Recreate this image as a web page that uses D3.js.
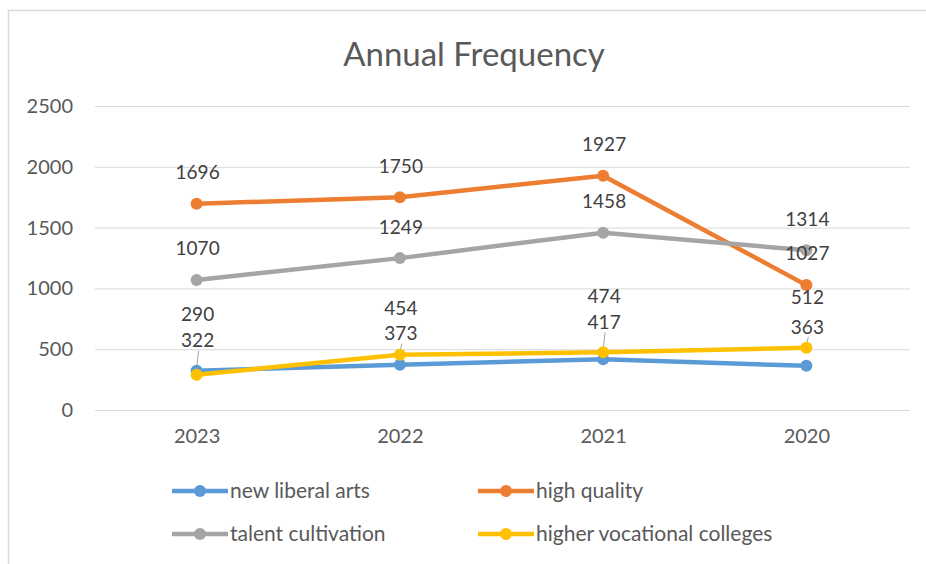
<!DOCTYPE html>
<html>
<head>
<meta charset="utf-8">
<script src="https://cdn.jsdelivr.net/npm/d3@7"></script>
<style>
  body { margin: 0; background: #fff; }
  text { font-family: Lato, "Open Sans", sans-serif; }
</style>
</head>
<body>
<div id="chart"></div>
<script>
// data
const years = ['2023', '2022', '2021', '2020'];
const newLiberalArts = [322, 373, 417, 363];
const highQuality = [1696, 1750, 1927, 1027];
const talentCultivation = [1070, 1249, 1458, 1314];
const higherVocational = [290, 454, 474, 512];
const yTicks = [0, 500, 1000, 1500, 2000, 2500];

const series = [
  { name: 'new liberal arts', values: newLiberalArts, color: '#5b9bd5' },
  { name: 'high quality', values: highQuality, color: '#ed7d31' },
  { name: 'talent cultivation', values: talentCultivation, color: '#a5a5a5' },
  { name: 'higher vocational colleges', values: higherVocational, color: '#ffc000' },
];

// label offsets (px above point), the low series labels were dragged up by hand in the original
const labelLift = {
  'new liberal arts': [30, 31, 37, 39],
  'high quality': [31, 31, 31, 32],
  'talent cultivation': [32, 31, 31, 31],
  'higher vocational colleges': [60, 46, 56, 50],
};

const width = 926, height = 564;
const svg = d3.select('#chart').append('svg')
  .attr('width', width).attr('height', height);

// chart frame
svg.append('rect')
  .attr('x', 8.5).attr('y', 10.5)
  .attr('width', 940).attr('height', 580)
  .attr('fill', '#fff').attr('stroke', '#d9d9d9').attr('stroke-width', 1.5);

svg.append('text')
  .attr('x', 474).attr('y', 66)
  .attr('text-anchor', 'middle')
  .attr('font-size', 33).attr('fill', '#595959')
  .text('Annual Frequency');

const x = d3.scalePoint().domain(years).range([95, 908]).padding(0.5);
const y = d3.scaleLinear().domain([0, 2500]).range([410, 106]);

// gridlines
svg.append('g').selectAll('line')
  .data(yTicks).enter().append('line')
  .attr('x1', 95).attr('x2', 910)
  .attr('y1', d => y(d) + 0.5).attr('y2', d => y(d) + 0.5)
  .attr('stroke', '#d9d9d9').attr('stroke-width', 1);

const yAxis = svg.append('g')
  .attr('transform', 'translate(73,0)')
  .call(d3.axisLeft(y).tickValues(yTicks).tickFormat(d3.format('d')).tickSize(0).tickPadding(0));
yAxis.select('.domain').remove();
yAxis.selectAll('text').attr('font-size', 20).attr('fill', '#595959')
  .attr('font-family', 'Lato, sans-serif');

const xAxis = svg.append('g')
  .attr('transform', 'translate(0,428)')
  .call(d3.axisBottom(x).tickSize(0).tickPadding(0));
xAxis.select('.domain').remove();
xAxis.selectAll('text').attr('font-size', 20).attr('fill', '#595959')
  .attr('font-family', 'Lato, sans-serif').attr('dy', '0.75em');

const line = d3.line().x((d, i) => x(years[i])).y(d => y(d));

// leader lines for the lifted labels
years.forEach((yr, i) => {
  const lowBlue = y(newLiberalArts[i]) - labelLift['new liberal arts'][i];
  const topPt = Math.min(y(newLiberalArts[i]), y(higherVocational[i]));
  svg.append('line')
    .attr('x1', x(yr) + 2).attr('x2', x(yr))
    .attr('y1', lowBlue + 10).attr('y2', topPt - 3)
    .attr('stroke', '#a6a6a6').attr('stroke-width', 1);
});

series.forEach(s => {
  const g = svg.append('g');
  g.append('path')
    .attr('d', line(s.values))
    .attr('fill', 'none')
    .attr('stroke', s.color)
    .attr('stroke-width', 4.5)
    .attr('stroke-linejoin', 'round');
  g.selectAll('circle')
    .data(s.values).enter().append('circle')
    .attr('cx', (d, i) => x(years[i]))
    .attr('cy', d => y(d))
    .attr('r', 6)
    .attr('fill', s.color);
});

series.forEach(s => {
  svg.append('g').selectAll('text')
    .data(s.values).enter().append('text')
    .attr('x', (d, i) => x(years[i]) + 1)
    .attr('y', (d, i) => y(d) - labelLift[s.name][i])
    .attr('dy', '0.35em')
    .attr('text-anchor', 'middle')
    .attr('font-size', 19)
    .attr('fill', '#404040')
    .text(d => d);
});

// legend
const legendPos = [[172, 491], [478, 491], [172, 534], [478, 534]];
series.forEach((s, i) => {
  const [lx, ly] = legendPos[i];
  const g = svg.append('g').attr('transform', `translate(${lx},${ly})`);
  g.append('line').attr('x1', 0).attr('x2', 56)
    .attr('stroke', s.color).attr('stroke-width', 4.5);
  g.append('circle').attr('cx', 28).attr('r', 6).attr('fill', s.color);
  g.append('text').attr('x', 58).attr('dy', '0.35em')
    .attr('font-size', 21).attr('fill', '#595959')
    .text(s.name);
});
</script>
</body>
</html>
